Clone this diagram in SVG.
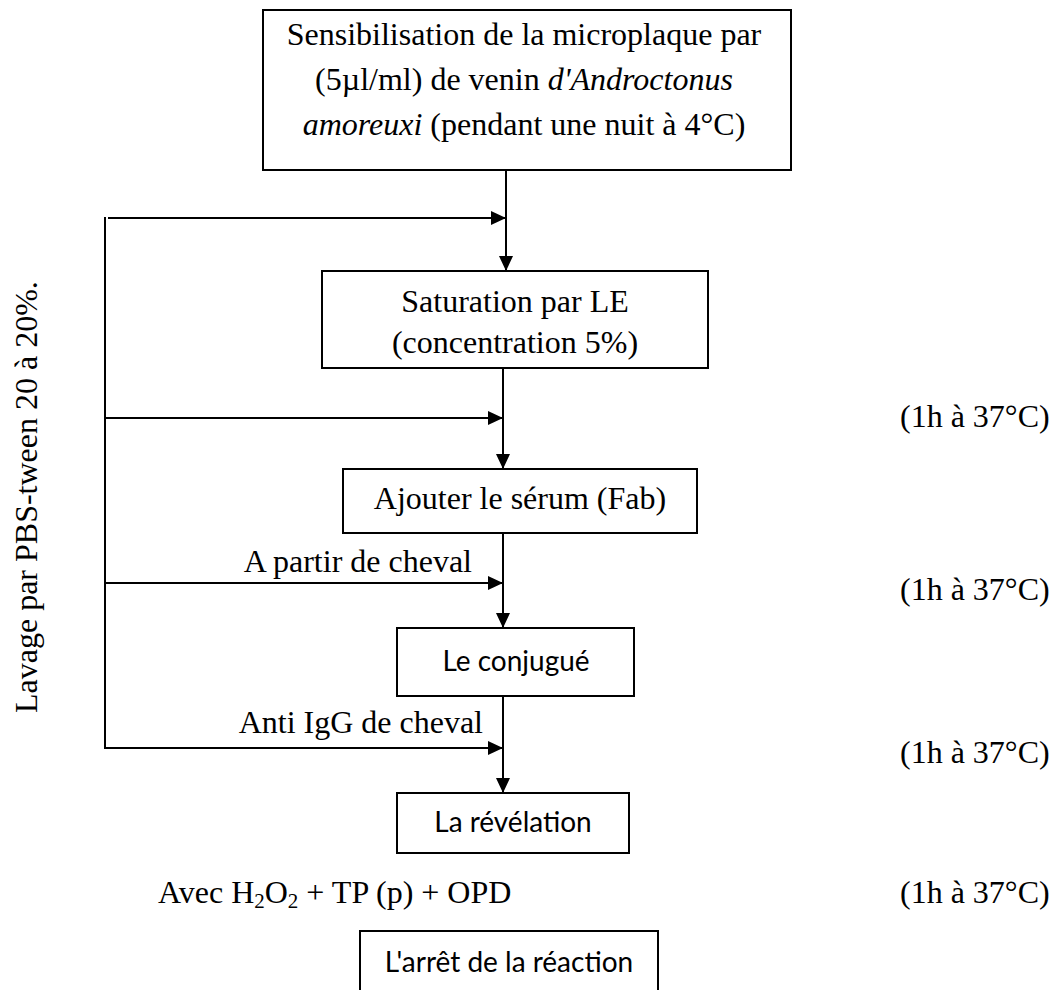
<svg xmlns="http://www.w3.org/2000/svg" width="1056" height="990" viewBox="0 0 1056 990">
<defs>
<marker id="ah" viewBox="0 0 15 14" refX="15" refY="7" markerWidth="15" markerHeight="14" markerUnits="userSpaceOnUse" orient="auto">
<path d="M0,0 L15,7 L0,14 Z" fill="#000"/>
</marker>
<style>
.box{fill:#fff;stroke:#000;stroke-width:2}
.ln{fill:none;stroke:#000;stroke-width:2}
.arr{fill:none;stroke:#000;stroke-width:2;marker-end:url(#ah)}
.t{font-family:"Liberation Serif","Times New Roman",serif;font-size:32px;fill:#000}
.c{font-family:Lato,"Open Sans",sans-serif;font-size:28px;fill:#000}
.mid{text-anchor:middle}
.end{text-anchor:end}
</style>
</defs>
<rect width="1056" height="990" fill="#fff"/>
<g id="connectors">
<line class="ln" x1="105" y1="217" x2="105" y2="749"/>
<line class="arr" x1="108" y1="218" x2="506" y2="218"/>
<line class="arr" x1="105" y1="418" x2="503" y2="418"/>
<line class="arr" x1="105" y1="583" x2="503" y2="583"/>
<line class="arr" x1="104" y1="748" x2="503" y2="748"/>
<line class="arr" x1="506" y1="170" x2="506" y2="271"/>
<line class="arr" x1="503" y1="368" x2="503" y2="469"/>
<line class="arr" x1="503" y1="533" x2="503" y2="628"/>
<line class="arr" x1="503" y1="696" x2="503" y2="793"/>
</g>
<g id="n-sensibilisation">
<rect class="box" x="263" y="10" width="528" height="160"/>
<text class="t mid" x="524" y="45">Sensibilisation de la microplaque par</text>
<text class="t mid" x="524" y="90">(5µl/ml) de venin <tspan font-style="italic">d'Androctonus</tspan></text>
<text class="t mid" x="524" y="135"><tspan font-style="italic">amoreuxi</tspan> (pendant une nuit à 4°C)</text>
</g>
<g id="n-saturation">
<rect class="box" x="322" y="271" width="386" height="97"/>
<text class="t mid" x="515" y="312">Saturation par LE</text>
<text class="t mid" x="515" y="353">(concentration 5%)</text>
</g>
<g id="n-serum">
<rect class="box" x="343" y="469" width="354" height="64"/>
<text class="t mid" x="520" y="509">Ajouter le sérum (Fab)</text>
</g>
<g id="n-conjugue">
<rect class="box" x="397" y="628" width="237" height="68"/>
<text class="c mid" x="516" y="671">Le conjugué</text>
</g>
<g id="n-revelation">
<rect class="box" x="397" y="793" width="232" height="60"/>
<text class="c mid" x="513" y="832">La révélation</text>
</g>
<g id="n-arret">
<rect class="box" x="360" y="931" width="298" height="70"/>
<text class="c mid" x="509" y="972">L'arrêt de la réaction</text>
</g>
<g id="labels">
<text class="t end" x="472" y="572">A partir de cheval</text>
<text class="t end" x="483" y="733">Anti IgG de cheval</text>
<text class="t" x="158" y="903">Avec H<tspan font-size="21" dy="5">2</tspan><tspan dy="-5">O</tspan><tspan font-size="21" dy="5">2</tspan><tspan dy="-5"> + TP (p) + OPD</tspan></text>
<text class="t" x="900" y="427">(1h à 37°C)</text>
<text class="t" x="900" y="600">(1h à 37°C)</text>
<text class="t" x="900" y="763">(1h à 37°C)</text>
<text class="t" x="900" y="903">(1h à 37°C)</text>
<text class="t" transform="translate(37,713) rotate(-90)">Lavage par PBS-tween 20 à 20%.</text>
</g>
</svg>
